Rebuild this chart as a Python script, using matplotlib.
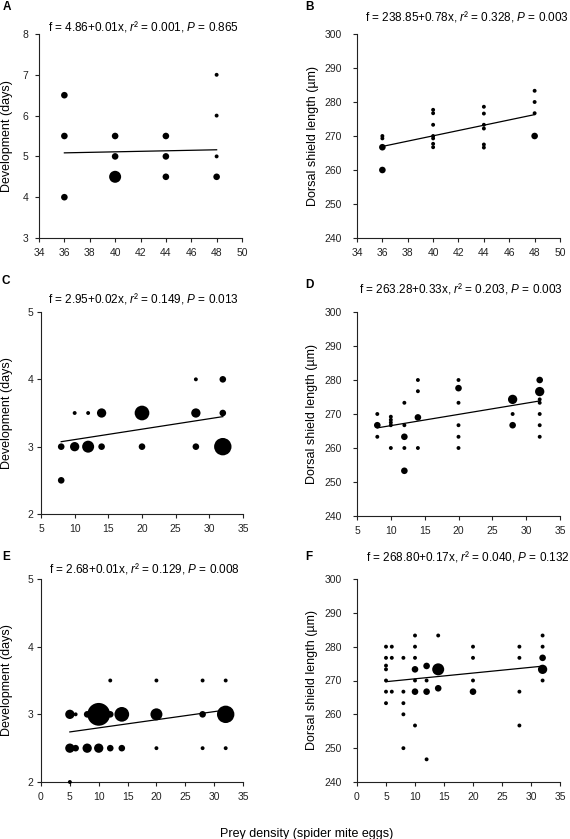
import numpy as np
import matplotlib
matplotlib.use('Agg')
import matplotlib.pyplot as plt

plt.rcParams['font.family'] = ['Liberation Sans', 'DejaVu Sans']
plt.rcParams['mathtext.fontset'] = 'custom'
plt.rcParams['mathtext.rm'] = 'Liberation Sans'
plt.rcParams['mathtext.it'] = 'Liberation Sans:italic'

# --- data: x = prey density, y = response, n = number of overlapping individuals
a_x = [36, 36, 36, 40, 40, 40, 44, 44, 44, 48, 48, 48, 48]
a_y = [6.5, 5.5, 4.0, 5.5, 5.0, 4.5, 5.5, 5.0, 4.5, 7.0, 6.0, 5.0, 4.5]
a_n = [2, 2, 2, 2, 2, 4, 2, 2, 2, 1, 1, 1, 2]
a_fit = (4.86, 0.0063)

b_x = [36, 36, 36, 36,
       40, 40, 40, 40, 40, 40, 40,
       44, 44, 44, 44, 44, 44,
       48, 48, 48, 48]
b_y = [270.0, 269.3, 266.7, 260.0,
       277.7, 276.7, 273.3, 270.0, 269.3, 267.7, 266.7,
       278.6, 276.6, 273.3, 272.2, 267.5, 266.6,
       283.3, 280.0, 276.7, 270.0]
b_n = [1, 1, 2, 2,
       1, 1, 1, 1, 1, 1, 1,
       1, 1, 1, 1, 1, 1,
       1, 1, 1, 2]
b_fit = (238.85, 0.78)

c_x = [8, 8, 10, 10, 12, 12, 14, 14, 20, 20, 28, 28, 28, 32, 32, 32]
c_y = [3.0, 2.5, 3.5, 3.0, 3.5, 3.0, 3.5, 3.0, 3.5, 3.0, 4.0, 3.5, 3.0, 4.0, 3.5, 3.0]
c_n = [2, 2, 1, 3, 1, 4, 3, 2, 5, 2, 1, 3, 2, 2, 2, 6]
c_fit = (2.95, 0.0155)

d_x = [8, 8, 8,
       10, 10, 10, 10, 10,
       12, 12, 12, 12, 12,
       14, 14, 14, 14,
       20, 20, 20, 20, 20, 20,
       28, 28, 28,
       32, 32, 32, 32, 32, 32, 32]
d_y = [270.0, 266.7, 263.3,
       269.2, 268.3, 267.5, 266.7, 260.0,
       273.3, 266.7, 263.3, 260.0, 253.3,
       280.0, 276.7, 269.0, 260.0,
       280.0, 277.6, 273.3, 266.7, 263.3, 260.0,
       274.3, 270.0, 266.7,
       280.0, 276.6, 274.3, 273.3, 270.0, 266.7, 263.3]
d_n = [1, 2, 1,
       1, 1, 1, 1, 1,
       1, 1, 2, 1, 2,
       1, 1, 2, 1,
       1, 2, 1, 1, 1, 1,
       3, 1, 2,
       2, 3, 1, 1, 1, 1, 1]
d_fit = (263.28, 0.33)

e_x = [12, 20, 28, 32,
       5, 6, 8, 10, 12, 14, 20, 28, 32,
       5, 6, 8, 10, 12, 14, 20, 28, 32,
       5]
e_y = [3.5, 3.5, 3.5, 3.5,
       3.0, 3.0, 3.0, 3.0, 3.0, 3.0, 3.0, 3.0, 3.0,
       2.5, 2.5, 2.5, 2.5, 2.5, 2.5, 2.5, 2.5, 2.5,
       2.0]
e_n = [1, 1, 1, 1,
       3, 1, 2, 8, 2, 5, 4, 2, 6,
       3, 2, 3, 3, 2, 2, 1, 1, 1,
       1]
e_fit = (2.68, 0.012)

f_x = [5, 5, 5, 5, 5, 5, 5,
       6, 6, 6,
       8, 8, 8, 8, 8,
       10, 10, 10, 10, 10, 10, 10,
       12, 12, 12, 12,
       14, 14, 14,
       20, 20, 20, 20,
       28, 28, 28, 28,
       32, 32, 32, 32, 32]
f_y = [280.0, 276.7, 274.4, 273.3, 270.0, 266.7, 263.3,
       280.0, 276.7, 266.7,
       276.7, 266.7, 263.3, 260.0, 250.0,
       283.3, 280.0, 276.7, 273.3, 270.0, 266.7, 256.7,
       274.3, 270.0, 266.7, 246.7,
       283.3, 273.3, 267.7,
       280.0, 276.7, 270.0, 266.7,
       280.0, 276.7, 266.7, 256.7,
       283.3, 280.0, 276.7, 273.3, 270.0]
f_n = [1, 1, 1, 1, 1, 1, 1,
       1, 1, 1,
       1, 1, 1, 1, 1,
       1, 1, 1, 2, 1, 2, 1,
       2, 1, 2, 1,
       1, 4, 2,
       1, 1, 1, 2,
       1, 1, 1, 1,
       1, 1, 2, 3, 1]
f_fit = (268.80, 0.17)

titles = [
    r"f = 4.86+0.01x, $r$² = 0.001, $P$ = 0.865",
    r"f = 238.85+0.78x, $r$² = 0.328, $P$ = 0.003",
    r"f = 2.95+0.02x, $r$² = 0.149, $P$ = 0.013",
    r"f = 263.28+0.33x, $r$² = 0.203, $P$ = 0.003",
    r"f = 2.68+0.01x, $r$² = 0.129, $P$ = 0.008",
    r"f = 268.80+0.17x, $r$² = 0.040, $P$ = 0.132",
]
letters = ['A', 'B', 'C', 'D', 'E', 'F']
dev_label = 'Development (days)'
dsl_label = 'Dorsal shield length (µm)'

# --- layout (pixels in a 570 x 839 figure)
W, H = 570, 839
rects = [(39, 34, 242, 238), (357, 34, 560, 238),
         (41, 312, 243, 514), (357, 312, 560, 516),
         (41, 579, 243, 782), (357, 579, 560, 782)]
title_pos = [(48, 26), (365, 16), (48, 298), (359, 289), (49, 568), (366, 557)]
letter_pos = [(7, 7), (309, 7), (6, 281), (309, 285), (6, 557), (309, 557)]
ypads = [4.8, 8, 2.5, 7.7, 2.7, 8]
ylab_right = [13, 319, 13, 318, 13, 318]

panels = [
    (a_x, a_y, a_n, a_fit, (34, 50), np.arange(34, 51, 2), (3, 8), np.arange(3, 9, 1), dev_label),
    (b_x, b_y, b_n, b_fit, (34, 50), np.arange(34, 51, 2), (240, 300), np.arange(240, 301, 10), dsl_label),
    (c_x, c_y, c_n, c_fit, (5, 35), np.arange(5, 36, 5), (2, 5), np.arange(2, 6, 1), dev_label),
    (d_x, d_y, d_n, d_fit, (5, 35), np.arange(5, 36, 5), (240, 300), np.arange(240, 301, 10), dsl_label),
    (e_x, e_y, e_n, e_fit, (0, 35), np.arange(0, 36, 5), (2, 5), np.arange(2, 6, 1), dev_label),
    (f_x, f_y, f_n, f_fit, (0, 35), np.arange(0, 36, 5), (240, 300), np.arange(240, 301, 10), dsl_label),
]

fig = plt.figure(figsize=(W / 100, H / 100), dpi=100)

for i, (x, y, n, fit, xl, xt, yl, yt, ylab) in enumerate(panels):
    l, t, r, b = rects[i]
    ax = fig.add_axes([l / W, 1 - b / H, (r - l) / W, (b - t) / H])
    x = np.array(x, float)
    y = np.array(y, float)
    n = np.array(n, float)
    # marker diameter in pixels grows with the number of individuals
    sizes = ((1.2 + 2.7 * n) * 0.72) ** 2
    ax.scatter(x, y, s=sizes, c='black', edgecolors='none', clip_on=False, zorder=3)
    xx = np.array([x.min(), x.max()])
    ax.plot(xx, fit[0] + fit[1] * xx, color='black', lw=0.9, zorder=2)

    ax.set_xlim(*xl)
    ax.set_ylim(*yl)
    ax.set_xticks(xt)
    ax.set_yticks(yt)
    for s in ['top', 'right']:
        ax.spines[s].set_visible(False)
    for s in ['left', 'bottom']:
        ax.spines[s].set_linewidth(0.8)
        ax.spines[s].set_color('#222222')
    ax.tick_params(axis='both', direction='out', length=3, width=0.8,
                   labelsize=7.5, colors='#222222')
    ax.tick_params(axis='x', pad=4.5)
    ax.tick_params(axis='y', pad=ypads[i])
    ax.set_ylabel(ylab, fontsize=9)
    ax.yaxis.set_label_coords((ylab_right[i] - l) / (r - l), 0.5)

    tx, ty = title_pos[i]
    fig.text(tx / W, 1 - ty / H, titles[i], fontsize=8.5, ha='left', va='center')
    lx, ly = letter_pos[i]
    fig.text(lx / W, 1 - ly / H, letters[i], fontsize=8.5, fontweight='bold',
             ha='center', va='center')

fig.text(307 / W, 1 - 837 / H, 'Prey density (spider mite eggs)', fontsize=9,
         ha='center', va='baseline')

fig.savefig('out.png', dpi=100)
